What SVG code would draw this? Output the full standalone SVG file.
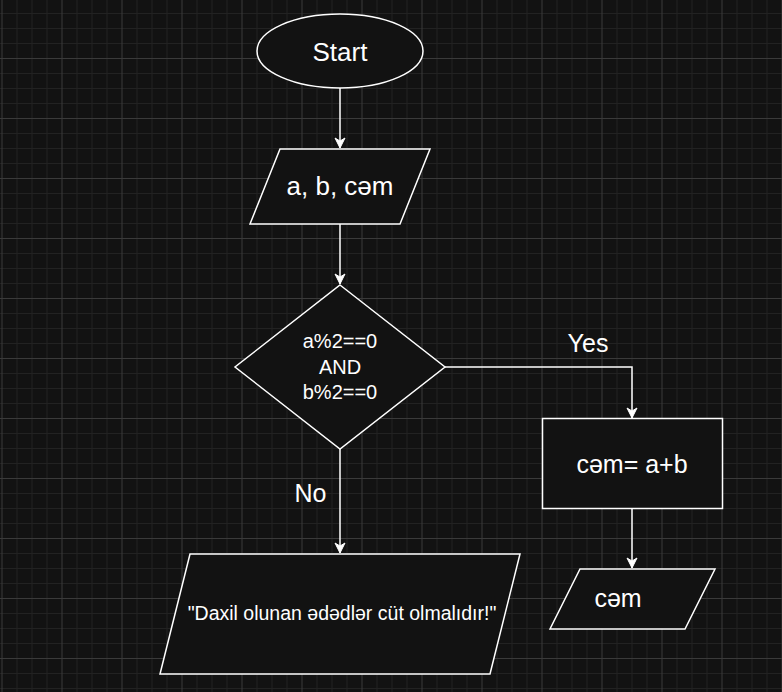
<svg xmlns="http://www.w3.org/2000/svg" width="782" height="692" viewBox="0 0 782 692">
<defs>
<pattern id="grid" patternUnits="userSpaceOnUse" x="1.5" y="-2" width="60" height="60">
<rect width="60" height="60" fill="#121212"/>
<path d="M15.5 0V60M30.5 0V60M45.5 0V60M0 15.5H60M0 30.5H60M0 45.5H60" stroke="#222222" stroke-width="1" fill="none"/>
<path d="M0.5 0V60M0 0.5H60" stroke="#3a3a3a" stroke-width="1" fill="none"/>
</pattern>
<marker id="arr" markerWidth="12" markerHeight="12" viewBox="0 0 12 12" refX="11" refY="6" orient="auto" markerUnits="userSpaceOnUse">
<path d="M1 1 L11 6 L1 11 L4 6 Z" fill="#ffffff" stroke="#ffffff" stroke-width="1"/>
</marker>
</defs>
<style>
.shape{fill:#121212;stroke:#ffffff;stroke-width:1.5}
.edge{fill:none;stroke:#ffffff;stroke-width:1.5;marker-end:url(#arr)}
text{font-family:"Liberation Sans",Arial,sans-serif;fill:#ffffff;text-anchor:middle}
</style>
<rect width="782" height="692" fill="url(#grid)"/>
<g id="edges">
<path class="edge" d="M340 88V148"/>
<path class="edge" d="M340 224V284"/>
<path class="edge" d="M445 367H632V418"/>
<path class="edge" d="M632 509V568"/>
<path class="edge" d="M340 449V553"/>
<text x="588" y="352" font-size="25">Yes</text>
<text x="310.5" y="502" font-size="25">No</text>
</g>
<g id="start">
<ellipse class="shape" cx="340" cy="51" rx="83" ry="37"/>
<text x="340" y="61" font-size="26">Start</text>
</g>
<g id="input">
<polygon class="shape" points="280,149 430,149 400,224 250,224"/>
<text x="340" y="195" font-size="26">a, b, cəm</text>
</g>
<g id="decision">
<polygon class="shape" points="340,285 445,367 340,449 235,367"/>
<text x="340" y="348" font-size="20">a%2==0</text>
<text x="340" y="374" font-size="20">AND</text>
<text x="340" y="399" font-size="20">b%2==0</text>
</g>
<g id="sum">
<rect class="shape" x="542.5" y="418.5" width="180" height="90"/>
<text x="632" y="473" font-size="25">cəm= a+b</text>
</g>
<g id="output">
<polygon class="shape" points="580,569 715,569 685,629 550,629"/>
<text x="618" y="607" font-size="25">cəm</text>
</g>
<g id="error">
<polygon class="shape" points="190,554 520,554 490,674 160,674"/>
<text x="342" y="620" font-size="19.5">"Daxil olunan ədədlər cüt olmalıdır!"</text>
</g>
</svg>
